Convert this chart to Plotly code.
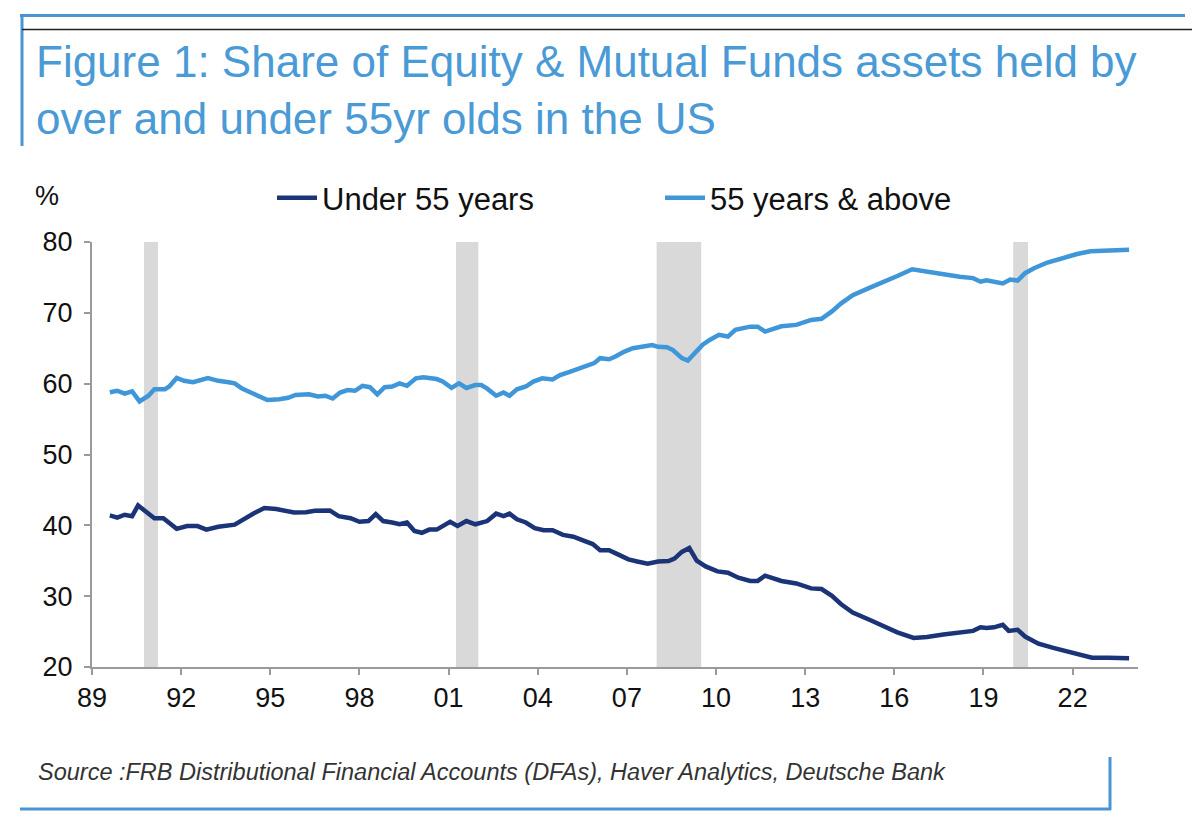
import plotly.graph_objects as go

# ---- data ----
over55_x = [1989.6, 1989.85, 1990.1, 1990.35, 1990.6, 1990.9, 1991.1, 1991.45, 1991.6, 1991.85,
            1992.1, 1992.4, 1992.9, 1993.25, 1993.6, 1993.8, 1994.05, 1994.4, 1994.7, 1994.9,
            1995.3, 1995.6, 1995.85, 1996.3, 1996.6, 1996.85, 1997.1, 1997.35, 1997.6, 1997.85,
            1998.1, 1998.35, 1998.6, 1998.85, 1999.1, 1999.35, 1999.6, 1999.9, 2000.15, 2000.6,
            2000.8, 2001.1, 2001.35, 2001.6, 2001.9, 2002.1, 2002.3, 2002.6, 2002.85, 2003.05,
            2003.3, 2003.6, 2003.85, 2004.15, 2004.5, 2004.75, 2005.1, 2005.45, 2005.7, 2005.9,
            2006.1, 2006.4, 2006.6, 2006.9, 2007.2, 2007.55, 2007.85, 2008.05, 2008.35, 2008.55,
            2008.85, 2009.05, 2009.3, 2009.55, 2009.8, 2010.1, 2010.4, 2010.65, 2011.15, 2011.4,
            2011.65, 2012.2, 2012.7, 2013.2, 2013.55, 2013.9, 2014.2, 2014.6, 2015.2, 2015.6,
            2016.1, 2016.6, 2017.1, 2017.65, 2018.2, 2018.65, 2018.9, 2019.1, 2019.35, 2019.65,
            2019.9, 2020.15, 2020.4, 2020.7, 2021.15, 2021.7, 2022.15, 2022.6, 2023.2, 2023.5,
            2023.9]
over55_y = [58.8, 59.0, 58.6, 58.9, 57.5, 58.3, 59.2, 59.2, 59.6, 60.8,
            60.4, 60.2, 60.8, 60.4, 60.2, 60.05, 59.3, 58.6, 58.0, 57.7,
            57.8, 58.0, 58.4, 58.5, 58.2, 58.3, 57.9, 58.75, 59.1, 59.0,
            59.7, 59.5, 58.5, 59.5, 59.6, 60.05, 59.7, 60.75, 60.9, 60.65,
            60.3, 59.4, 60.05, 59.4, 59.8, 59.8, 59.3, 58.3, 58.75, 58.3,
            59.2, 59.6, 60.3, 60.75, 60.6, 61.2, 61.7, 62.2, 62.6, 62.9,
            63.6, 63.45, 63.8, 64.5, 65.0, 65.3, 65.45, 65.2, 65.15, 64.75,
            63.6, 63.25, 64.3, 65.5, 66.2, 66.9, 66.65, 67.6, 68.05, 68.05,
            67.35, 68.1, 68.3, 69.0, 69.15, 70.2, 71.3, 72.5, 73.6, 74.25,
            75.2, 76.15, 75.8, 75.4, 75.1, 74.9, 74.4, 74.6, 74.4, 74.15,
            74.7, 74.55, 75.6, 76.3, 77.1, 77.8, 78.3, 78.7, 78.8, 78.9,
            78.9]

under55_x = [1989.6, 1989.85, 1990.1, 1990.35, 1990.55, 1990.85, 1991.1, 1991.4, 1991.55, 1991.85,
             1992.2, 1992.55, 1992.85, 1993.25, 1993.8, 1994.15, 1994.45, 1994.8, 1995.2, 1995.8,
             1996.2, 1996.5, 1997.0, 1997.3, 1997.7, 1998.0, 1998.3, 1998.55, 1998.8, 1999.1,
             1999.35, 1999.6, 1999.85, 2000.1, 2000.35, 2000.6, 2001.05, 2001.3, 2001.6, 2001.9,
             2002.1, 2002.3, 2002.6, 2002.85, 2003.05, 2003.3, 2003.6, 2003.9, 2004.2, 2004.5,
             2004.85, 2005.2, 2005.5, 2005.85, 2006.1, 2006.4, 2006.7, 2007.05, 2007.35, 2007.7,
             2008.05, 2008.4, 2008.6, 2008.85, 2009.1, 2009.35, 2009.65, 2010.05, 2010.4, 2010.75,
             2011.15, 2011.4, 2011.65, 2012.2, 2012.7, 2013.2, 2013.55, 2013.9, 2014.2, 2014.6,
             2015.2, 2015.6, 2016.1, 2016.65, 2017.1, 2017.65, 2018.2, 2018.65, 2018.9, 2019.1,
             2019.35, 2019.65, 2019.85, 2020.15, 2020.4, 2020.85, 2021.35, 2022.15, 2022.65, 2023.2,
             2023.9]
under55_y = [41.4, 41.1, 41.5, 41.3, 42.8, 41.9, 41.0, 41.0, 40.5, 39.5,
             39.9, 39.9, 39.4, 39.8, 40.1, 41.0, 41.7, 42.45, 42.3, 41.8,
             41.85, 42.05, 42.1, 41.3, 41.0, 40.5, 40.6, 41.6, 40.6, 40.4,
             40.15, 40.4, 39.2, 38.95, 39.4, 39.4, 40.5, 39.9, 40.6, 40.15,
             40.3, 40.6, 41.65, 41.3, 41.65, 40.85, 40.4, 39.6, 39.3, 39.3,
             38.65, 38.4, 37.9, 37.35, 36.5, 36.5, 35.9, 35.2, 34.9, 34.6,
             34.9, 34.95, 35.3, 36.25, 36.8, 35.0, 34.2, 33.5, 33.3, 32.6,
             32.15, 32.15, 32.9, 32.15, 31.8, 31.1, 31.0, 30.05, 28.9, 27.7,
             26.6, 25.8, 24.9, 24.1, 24.25, 24.6, 24.9, 25.1, 25.6, 25.5,
             25.6, 25.95, 25.1, 25.25, 24.3, 23.3, 22.7, 21.9, 21.3, 21.3,
             21.25]

recession_start = [1990.75, 2001.25, 2008.0, 2020.0]
recession_end = [1991.22, 2002.0, 2009.5, 2020.5]

tick_vals = [1989, 1992, 1995, 1998, 2001, 2004, 2007, 2010, 2013, 2016, 2019, 2022]
tick_text = ["89", "92", "95", "98", "01", "04", "07", "10", "13", "16", "19", "22"]
y_ticks = [20, 30, 40, 50, 60, 70, 80]

# ---- figure ----
OFF = 8  # page body margin
W, H = 1200 - OFF, 827 - OFF
L, R, T, B = 92 - OFF, 1138 - OFF, 242 - OFF, 667 - OFF  # plot area in pixels

DARK = "#1b3477"
LIGHT = "#3f96d8"
FRAME = "#4a94d4"
FONT = "Liberation Sans, Arial"

fig = go.Figure()
fig.add_trace(go.Scatter(x=under55_x, y=under55_y, mode="lines", name="Under 55 years",
                         line=dict(color=DARK, width=4.5)))
fig.add_trace(go.Scatter(x=over55_x, y=over55_y, mode="lines", name="55 years & above",
                         line=dict(color=LIGHT, width=4.5)))

shapes = []
for s, e in zip(recession_start, recession_end):
    shapes.append(dict(type="rect", xref="x", yref="y", x0=s, x1=e, y0=20, y1=80,
                       fillcolor="#d9d9d9", line=dict(width=0), layer="below"))


def px(x):  # reference-image pixel -> paper coordinate
    return (x - OFF - L) / (R - L)


def py(y):
    return (B - (y - OFF)) / (B - T)


def pline(x0, y0, x1, y1, color, width):
    shapes.append(dict(type="line", xref="paper", yref="paper",
                       x0=px(x0), y0=py(y0), x1=px(x1), y1=py(y1),
                       line=dict(color=color, width=width)))


# frame decorations
pline(20, 15.5, 1185, 15.5, FRAME, 3)
pline(22, 14, 22, 146, FRAME, 3)
pline(22, 29.5, 1200, 29.5, "#222222", 1.5)
pline(20, 809, 1111, 809, FRAME, 3)
pline(1110, 757, 1110, 810, FRAME, 3)

annotations = [
    dict(text="Figure 1: Share of Equity & Mutual Funds assets held by<br>over and under 55yr olds in the US",
         xref="paper", yref="paper", x=px(34), y=py(35), xanchor="left", yanchor="top",
         align="left", showarrow=False,
         font=dict(family=FONT, size=44, color="#4a9ad6")),
    dict(text="%", xref="paper", yref="paper", x=px(47), y=py(196), xanchor="center",
         yanchor="middle", showarrow=False,
         font=dict(family=FONT, size=27, color="#111111")),
    dict(text="<i>Source :FRB Distributional Financial Accounts (DFAs), Haver Analytics, Deutsche Bank</i>",
         xref="paper", yref="paper", x=px(36), y=py(772), xanchor="left", yanchor="middle",
         showarrow=False,
         font=dict(family=FONT, size=23.5, color="#333333")),
]

fig.update_layout(
    width=W, height=H,
    margin=dict(l=L, r=W - R, t=T, b=H - B, pad=0),
    paper_bgcolor="white", plot_bgcolor="white",
    shapes=shapes, annotations=annotations,
    font=dict(family=FONT, size=27, color="#111111"),
    showlegend=True,
    legend=dict(orientation="h", x=px(272), y=py(198), xanchor="left", yanchor="middle",
                font=dict(size=31, color="#111111"), bgcolor="rgba(0,0,0,0)",
                entrywidth=333, entrywidthmode="pixels", itemwidth=40, tracegroupgap=0),
    xaxis=dict(range=[1989, 2024.2], tickmode="array", tickvals=tick_vals, ticktext=tick_text,
               showgrid=False, zeroline=False, showline=True, linecolor="#9a9a9a", linewidth=2,
               ticks="outside", ticklen=6, tickcolor="#9a9a9a", tickwidth=2,
               tickfont=dict(size=27, color="#111111")),
    yaxis=dict(range=[20, 80], tickmode="array", tickvals=y_ticks,
               showgrid=False, zeroline=False, showline=True, linecolor="#9a9a9a", linewidth=2,
               ticks="outside", ticklen=6, tickcolor="#9a9a9a", tickwidth=2,
               ticklabelstandoff=6,
               tickfont=dict(size=27, color="#111111")),
)

fig.write_html("out.html")
